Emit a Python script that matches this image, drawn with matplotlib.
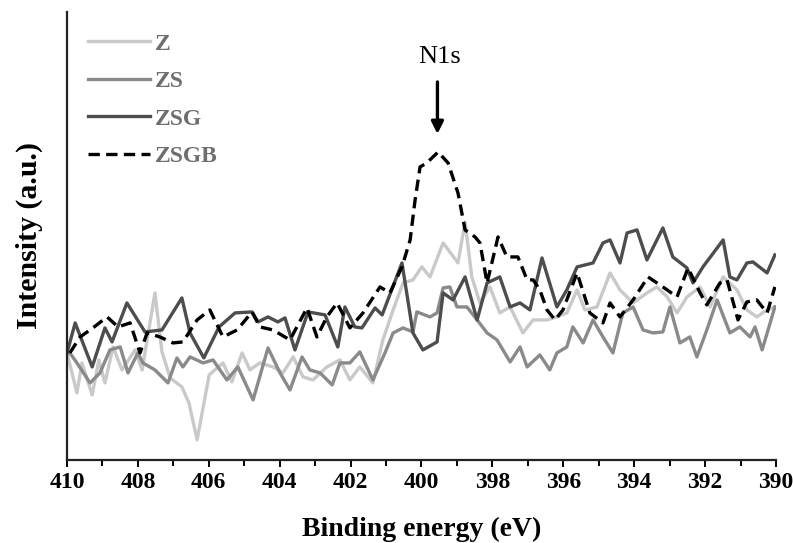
import matplotlib
matplotlib.use("Agg")
import matplotlib.pyplot as plt
from matplotlib.ticker import MultipleLocator

# N1s XPS spectra, intensity in arbitrary units
z_e = [410.00, 409.72, 409.58, 409.29, 409.10, 408.93, 408.70, 408.45, 408.08, 407.88,
       407.52, 407.32, 407.09, 406.76, 406.56, 406.33, 405.99, 405.60, 405.35, 405.06,
       404.84, 404.56, 404.19, 403.91, 403.62, 403.34, 403.06, 402.67, 402.30, 402.02,
       401.74, 401.37, 401.09, 400.80, 400.52, 400.24, 399.99, 399.76, 399.39, 398.97,
       398.77, 398.58, 398.35, 398.07, 397.79, 397.50, 397.14, 396.85, 396.46, 396.18,
       395.90, 395.61, 395.39, 395.05, 394.68, 394.40, 394.03, 393.64, 393.36, 393.07,
       392.79, 392.51, 392.14, 391.86, 391.49, 391.10, 390.82, 390.54, 390.25, 390.03]
z_i = [107, 67, 97, 65, 100, 77, 113, 90, 110, 90,
       167, 108, 82, 73, 57, 20, 85, 97, 78, 107,
       90, 97, 93, 87, 103, 83, 80, 93, 100, 80,
       93, 77, 120, 150, 177, 180, 193, 183, 217, 197,
       238, 183, 157, 173, 147, 153, 127, 140, 140, 143,
       147, 170, 150, 153, 187, 170, 157, 167, 173, 163,
       147, 163, 173, 153, 183, 170, 150, 143, 150, 153]

zs_e = [409.92, 409.72, 409.35, 409.07, 408.79, 408.50, 408.28, 408.00, 407.86, 407.52,
        407.15, 406.90, 406.73, 406.53, 406.16, 405.88, 405.49, 405.18, 404.75, 404.33,
        403.99, 403.71, 403.37, 403.15, 402.86, 402.52, 402.30, 402.02, 401.74, 401.37,
        401.03, 400.80, 400.52, 400.24, 400.13, 399.76, 399.56, 399.39, 399.20, 399.00,
        398.72, 398.43, 398.15, 397.87, 397.50, 397.22, 397.02, 396.66, 396.38, 396.18,
        395.90, 395.73, 395.44, 395.16, 394.88, 394.60, 394.32, 394.03, 393.75, 393.47,
        393.19, 392.99, 392.71, 392.43, 392.23, 391.95, 391.66, 391.30, 391.02, 390.73,
        390.59, 390.39, 390.03]
zs_i = [107, 97, 77, 87, 110, 113, 87, 107, 97, 90,
        77, 102, 93, 103, 97, 100, 80, 93, 60, 112,
        87, 70, 103, 90, 87, 75, 97, 97, 108, 80,
        107, 127, 132, 128, 148, 143, 147, 172, 173, 153,
        153, 140, 127, 120, 98, 113, 93, 105, 90, 107,
        113, 133, 117, 140, 123, 107, 147, 153, 130, 127,
        128, 153, 117, 123, 103, 130, 160, 127, 133, 123,
        133, 110, 153]

zsg_e = [410.00, 409.77, 409.29, 408.93, 408.73, 408.31, 407.80, 407.32, 406.76, 406.53,
         406.14, 405.71, 405.26, 404.78, 404.61, 404.33, 404.05, 403.85, 403.57, 403.20,
         402.72, 402.36, 402.16, 401.88, 401.68, 401.31, 401.11, 400.55, 400.24, 399.96,
         399.56, 399.39, 399.11, 398.77, 398.43, 398.15, 397.79, 397.50, 397.22, 396.94,
         396.60, 396.18, 395.90, 395.61, 395.16, 394.88, 394.68, 394.40, 394.20, 393.92,
         393.64, 393.19, 392.91, 392.51, 392.34, 392.06, 391.49, 391.30, 391.10, 390.82,
         390.65, 390.25, 390.03]
zsg_i = [107, 137, 93, 132, 118, 157, 128, 130, 162, 127,
         102, 133, 147, 148, 138, 143, 138, 142, 110, 148,
         145, 113, 153, 133, 132, 152, 145, 197, 127, 110,
         118, 167, 160, 183, 140, 177, 183, 153, 157, 150,
         202, 153, 170, 193, 197, 217, 220, 197, 227, 230,
         200, 232, 203, 192, 177, 193, 220, 183, 180, 197,
         198, 187, 205]

zsgb_e = [409.92, 409.63, 409.27, 408.87, 408.56, 408.22, 407.94, 407.74, 407.38, 407.01,
          406.73, 406.33, 405.97, 405.60, 405.20, 404.78, 404.56, 404.19, 403.71, 403.23,
          402.95, 402.67, 402.38, 402.02, 401.65, 401.17, 400.89, 400.55, 400.32, 400.18,
          400.04, 399.85, 399.53, 399.25, 398.97, 398.77, 398.49, 398.35, 398.15, 397.84,
          397.59, 397.28, 397.02, 396.85, 396.66, 396.46, 396.23, 396.01, 395.61, 395.25,
          394.88, 394.68, 394.40, 394.03, 393.61, 393.19, 392.79, 392.48, 392.14, 391.95,
          391.58, 391.38, 391.07, 390.82, 390.54, 390.25, 390.03]
zsgb_i = [107, 123, 132, 143, 133, 137, 107, 127, 123, 117,
          118, 140, 150, 123, 130, 148, 133, 130, 120, 152,
          123, 143, 157, 132, 147, 173, 167, 193, 220, 260,
          293, 297, 308, 297, 267, 230, 223, 217, 177, 223,
          203, 203, 180, 180, 170, 150, 140, 150, 187, 147,
          137, 157, 143, 160, 183, 173, 163, 192, 167, 155,
          177, 180, 140, 158, 160, 147, 173]

series = [
    ("Z", z_e, z_i, "#c9c9c9", "-"),
    ("ZS", zs_e, zs_i, "#8a8a8a", "-"),
    ("ZSG", zsg_e, zsg_i, "#4d4d4d", "-"),
    ("ZSGB", zsgb_e, zsgb_i, "#000000", "--"),
]

serif = ["Liberation Serif", "DejaVu Serif"]

fig = plt.figure(figsize=(7.93, 5.43), dpi=100)
ax = fig.add_axes([0.0845, 0.153, 0.894, 0.825])

for name, e, i, col, ls in series:
    line, = ax.plot(e, i, color=col, lw=2.4, ls=ls, label=name)
    if ls == "--":
        line.set_dashes((3.4, 1.9))

ax.set_xlim(410, 390)
ax.set_ylim(0, 448)

for side in ["top", "right"]:
    ax.spines[side].set_visible(False)
for side in ["left", "bottom"]:
    ax.spines[side].set_linewidth(1.6)
    ax.spines[side].set_color("#222222")

ax.xaxis.set_major_locator(MultipleLocator(2))
ax.xaxis.set_minor_locator(MultipleLocator(1))
ax.tick_params(axis="x", which="major", direction="out", length=5, width=1.4, pad=3.5)
ax.tick_params(axis="x", which="minor", direction="out", length=4, width=1.4)
ax.set_yticks([])
for lab in ax.get_xticklabels():
    lab.set_family(serif)
    lab.set_fontweight("bold")
    lab.set_fontsize(17)

ax.set_xlabel("Binding energy (eV)", family=serif, fontweight="bold", fontsize=20)
ax.set_ylabel("Intensity (a.u.)", family=serif, fontweight="bold", fontsize=21.5)
ax.xaxis.set_label_coords(0.5, -0.127)
ax.yaxis.set_label_coords(-0.034, 0.5)

# peak marker
ax.text(399.5, 397, "N1s", family=serif, fontsize=19, ha="center", va="baseline")
ax.annotate("", xy=(399.55, 326), xytext=(399.55, 378),
            arrowprops=dict(arrowstyle="-|>", color="black", lw=2.4, mutation_scale=18,
                            shrinkA=0, shrinkB=0))

leg = ax.legend(loc="upper left", bbox_to_anchor=(0.0296, 0.953), frameon=False,
                handlelength=2.63, handletextpad=0.2, labelspacing=0.68,
                borderpad=0, borderaxespad=0,
                prop={"family": serif, "weight": "bold", "size": 17},
                labelcolor="#6e6e6e")

fig.savefig("out.png", dpi=100)
